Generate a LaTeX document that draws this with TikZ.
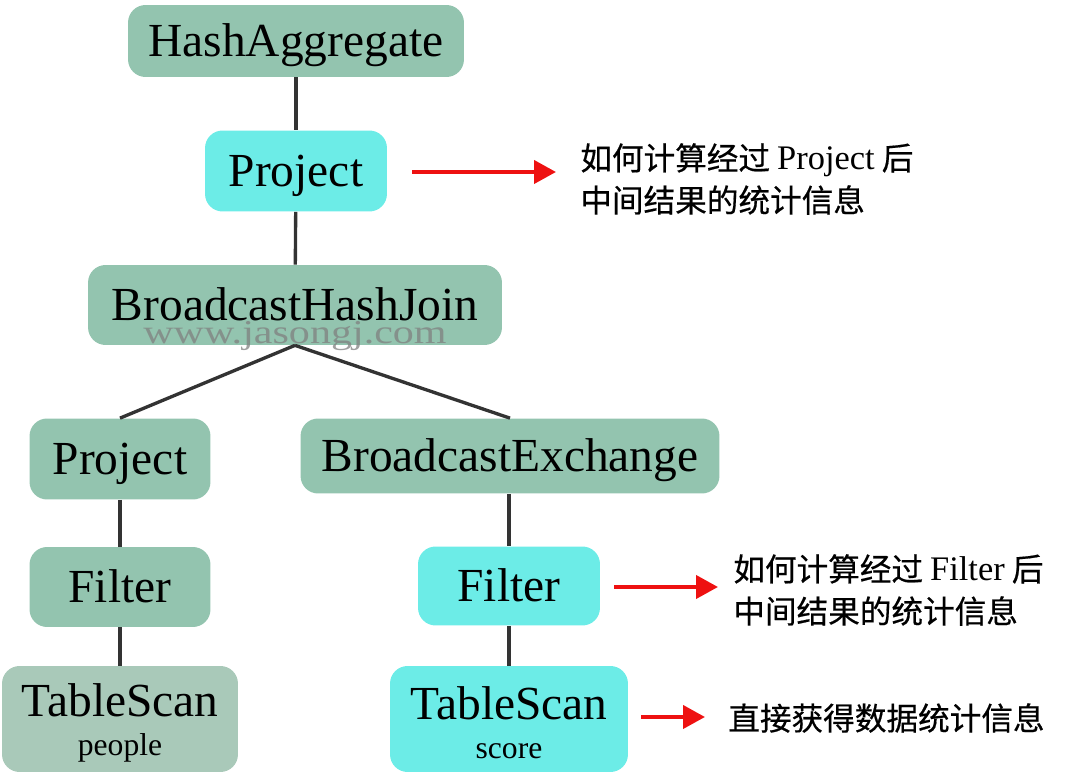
\documentclass[tikz,border=0pt]{standalone}
\usepackage{fontspec}
\setmainfont{Liberation Serif}
\newfontfamily\cjk[FakeBold=0.5]{Noto Sans CJK SC}
\usetikzlibrary{arrows.meta, positioning}
\definecolor{opgreen}{HTML}{93C4AF}
\definecolor{opcyan}{HTML}{6CECE7}
\definecolor{scangray}{HTML}{A9C9B9}
\definecolor{edgegray}{HTML}{333333}
\definecolor{hotred}{HTML}{EE1111}

\newcommand{\opfont}{\fontsize{27}{30}\selectfont}
\newcommand{\tblfont}{\fontsize{18}{20}\selectfont}
\newcommand{\notefont}{\fontsize{18}{24}\selectfont\cjk}
\newcommand{\lat}[1]{{\rmfamily\fontsize{19.6}{24}\selectfont #1}}

\begin{document}
\begin{tikzpicture}[
    x=0.02cm, y=-0.02cm,
    opbox/.style={rounded corners=10pt, fill=opgreen, inner sep=0pt,
      font=\opfont, align=center},
    oneline/.style={text height=23.8pt, text depth=5.9pt},
    hotbox/.style={opbox, fill=opcyan},
    tree/.style={edgegray, line width=1.9pt},
    note/.style={anchor=west, inner sep=0pt, font=\notefont, align=left},
    statarrow/.style={-{Triangle[length=4.4mm, width=4.6mm]}, hotred,
      line width=2.3pt},
  ]
  \useasboundingbox (0,0) rectangle (1080,773);

  % ===== Plan tree =====
  \node[opbox, oneline, minimum width=6.72cm, minimum height=1.44cm]
    (hashagg) at (296,41) {HashAggregate};
  \node[hotbox, oneline, minimum width=3.64cm, minimum height=1.62cm]
    (projtop) at (296,171) {Project};
  \node[opbox, oneline, minimum width=8.28cm, minimum height=1.6cm]
    (bhj) at (295,305) {BroadcastHashJoin};

  % left branch
  \node[opbox, oneline, minimum width=3.62cm, minimum height=1.62cm]
    (projleft) at (120,459) {Project};
  \node[opbox, oneline, minimum width=3.62cm, minimum height=1.6cm]
    (filtleft) at (120,587) {Filter};
  \node[opbox, fill=scangray, minimum width=4.72cm, minimum height=2.12cm]
    (scanleft) at (120,719)
    {\rule{0pt}{23pt}TableScan\\[-8pt]{\tblfont people}};

  % right branch
  \node[opbox, oneline, minimum width=8.38cm, minimum height=1.5cm]
    (bcast) at (510,456) {BroadcastExchange};
  \node[hotbox, oneline, minimum width=3.64cm, minimum height=1.58cm]
    (filtright) at (509,586) {Filter};
  \node[hotbox, minimum width=4.76cm, minimum height=2.12cm]
    (scanright) at (509,719)
    {\rule{0pt}{23pt}TableScan\\[-8pt]{\tblfont score}};

  % watermark
  \node[font=\fontsize{19}{20}\selectfont, text=gray, opacity=0.75,
    xscale=1.26, transform shape, inner sep=0pt]
    (wmark) at (295,336) {www.jasongj.com};

  % ===== Tree edges =====
  \draw[tree] (hashagg) -- (projtop);
  \draw[tree] (projtop) -- (bhj);
  \draw[tree] (bhj.south) -- (projleft.north);
  \draw[tree] (bhj.south) -- (bcast.north);
  \draw[tree] (projleft) -- (filtleft);
  \draw[tree] (filtleft) -- (scanleft);
  \draw[tree] (bcast.south -| filtright) -- (filtright);
  \draw[tree] (filtright) -- (scanright);

  % ===== Statistics notes =====
  \node[note] (notea) at (580,179)
    {如何计算经过 \lat{Project} 后\\中间结果的统计信息};
  \node[note] (noteb) at (733,590)
    {如何计算经过 \lat{Filter} 后\\中间结果的统计信息};
  \node[note] (notec) at (728,718) {直接获得数据统计信息};

  \draw[statarrow, shorten <=0.5cm, shorten >=0.48cm]
    (projtop.east |- 0,172) -- (notea.west |- 0,172);
  \draw[statarrow, shorten <=0.28cm, shorten >=0.3cm]
    (filtright.east |- 0,587) -- (noteb.west |- 0,587);
  \draw[statarrow, shorten <=0.26cm, shorten >=0.46cm]
    (scanright.east |- 0,717) -- (notec.west |- 0,717);

\end{tikzpicture}
\end{document}
